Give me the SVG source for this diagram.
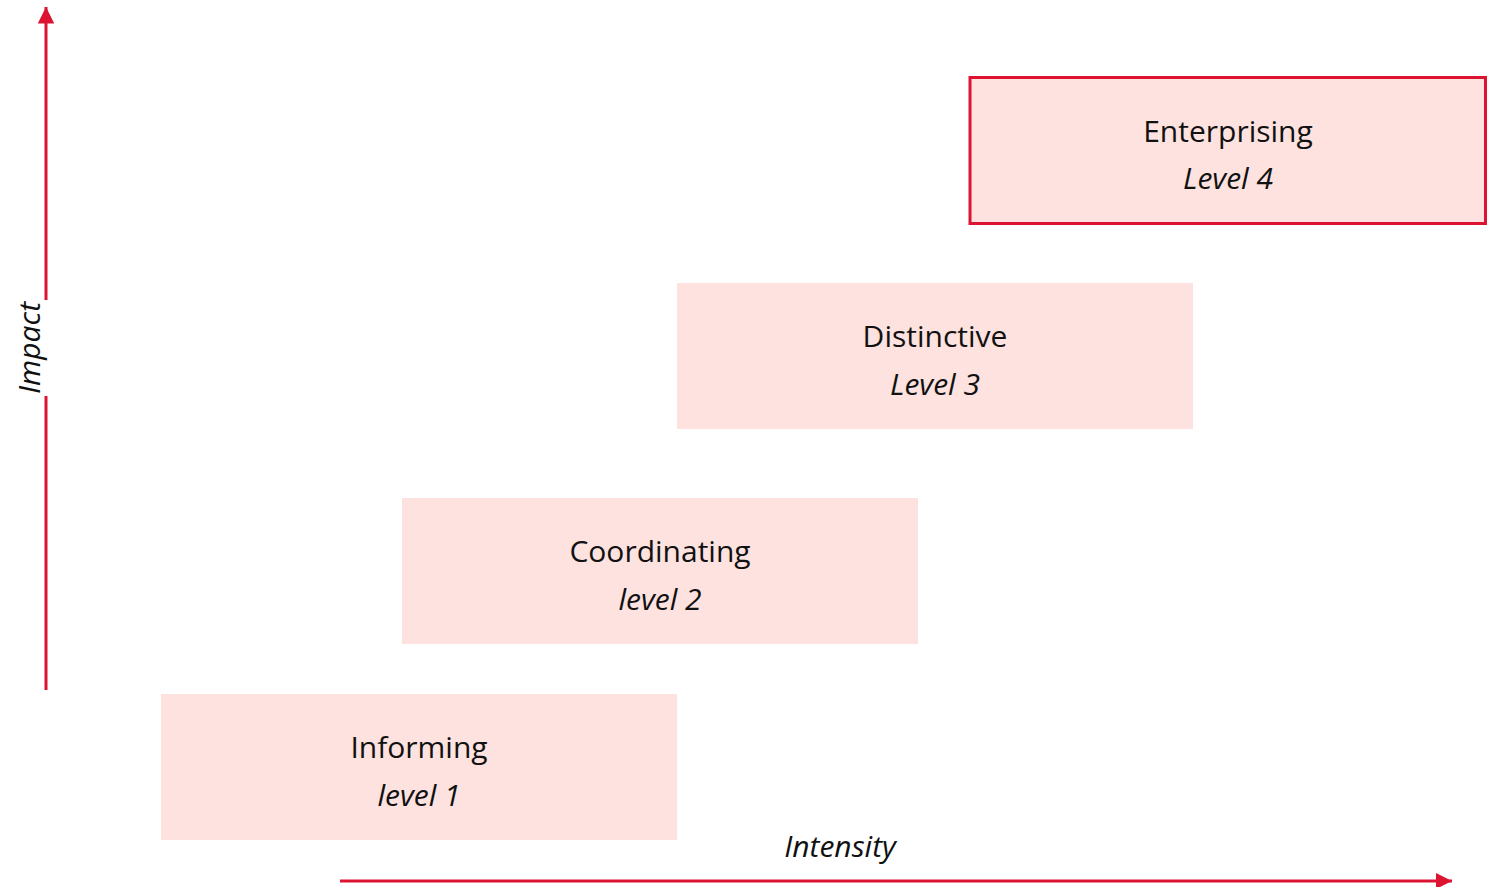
<svg xmlns="http://www.w3.org/2000/svg" width="1491" height="887" viewBox="0 0 1491 887">
<style>
.box{fill:#fde2df;}
.t{font-family:"Open Sans","Noto Sans","Liberation Sans",sans-serif;font-size:30px;fill:#111;text-anchor:middle;}
.i{font-style:italic;}
.ax{stroke:#dc1432;stroke-width:3;fill:none;}
</style>
<defs>
<marker id="ah" viewBox="0 0 10 10" refX="10" refY="5" markerWidth="5.5" markerHeight="5.5" orient="auto" markerUnits="strokeWidth">
<path d="M0,0 L10,5 L0,10 Z" fill="#dc1432"/>
</marker>
</defs>
<rect width="1491" height="887" fill="#fff"/>
<g id="connectors">
<line class="ax" x1="46" y1="690" x2="46" y2="396"/>
<line class="ax" x1="46" y1="300" x2="46" y2="7" marker-end="url(#ah)"/>
<line class="ax" x1="340" y1="881" x2="1452" y2="881" marker-end="url(#ah)"/>
</g>
<g id="axis-impact"><text class="t i" transform="translate(40,348) rotate(-90)">Impact</text></g>
<g id="axis-intensity"><text class="t i" x="840" y="857">Intensity</text></g>
<g id="level1">
<rect class="box" x="161" y="694" width="516" height="146"/>
<text class="t" x="419" y="758">Informing</text>
<text class="t i" x="419" y="806">level 1</text>
</g>
<g id="level2">
<rect class="box" x="402" y="498" width="516" height="146"/>
<text class="t" x="660" y="562">Coordinating</text>
<text class="t i" x="660" y="610">level 2</text>
</g>
<g id="level3">
<rect class="box" x="677" y="283" width="516" height="146"/>
<text class="t" x="935" y="347">Distinctive</text>
<text class="t i" x="935" y="395">Level 3</text>
</g>
<g id="level4">
<rect class="box" x="970" y="77.5" width="515.5" height="146" stroke="#dc1432" stroke-width="3"/>
<text class="t" x="1228" y="142">Enterprising</text>
<text class="t i" x="1228" y="189">Level 4</text>
</g>
</svg>
